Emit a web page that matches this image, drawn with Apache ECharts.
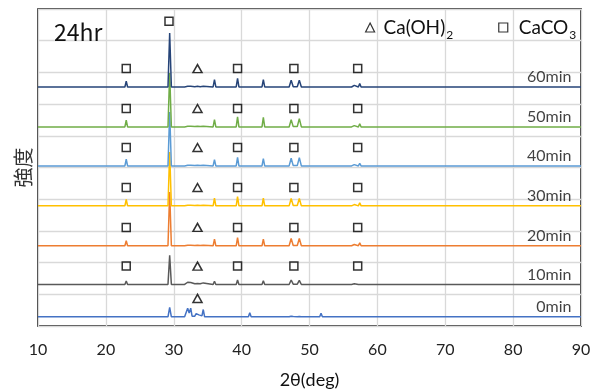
<!DOCTYPE html>
<html><head><meta charset="utf-8">
<script src="https://cdn.jsdelivr.net/npm/echarts@6/dist/echarts.min.js"></script>
<style>html,body{margin:0;padding:0;background:#fff}#c{width:603px;height:392px}</style>
</head><body><div id="c"></div>
<script>
// 2θ positions (deg) shared by all patterns
const twoTheta = [10,
  11.9,12.1,12.3, 14.7,14.9,15.1, 15.5,15.7,15.9, 18.9,19.1,19.3, 22.8,23.0,23.2,
  29.15,29.4,29.65, 31.2,31.4,31.6, 31.85,32.05,32.27,32.5,32.7, 33.1,33.3,33.5,33.7,33.9,
  34.15,34.35,34.55, 35.8,36.0,36.2, 39.2,39.4,39.6, 41.0,41.2,41.4, 43.0,43.2,43.4,
  47.0,47.3,47.6, 48.2,48.5,48.8, 51.5,51.7,51.9, 56.2,56.4,56.6,56.8, 57.2,57.4,57.6,
  60.5,60.7,60.9, 62.1,62.3,62.5, 64.5,64.7,64.9, 72.7,72.9,73.1, 83.6,83.8,84.0, 90];

// intensities (relative to each pattern's own baseline)
const int0min = [0,
  0,0.03,0, 0,0.02,0, 0,0.02,0, 0,0.02,0, 0,0.03,0,
  0,0.30,0, 0,0.02,0, 0.01,0.27,0.12,0.27,0.02, 0.02,0.10,0.04,0.06,0.03,
  0.03,0.23,0, 0,0.02,0, 0,0.02,0, 0,0.13,0, 0,0.02,0,
  0,0.02,0.01, 0,0.01,0, 0,0.11,0, 0,0.04,0,0, 0,0.02,0,
  0,0.01,0, 0,0.06,0, 0,0.01,0, 0,0.01,0, 0,0.01,0, 0];
const int10min = [0,
  0,0.03,0, 0,0.02,0, 0,0.01,0, 0,0.02,0, 0,0.11,0,
  0,0.92,0, 0,0.03,0, 0.02,0.07,0.03,0.06,0.02, 0.02,0.07,0.03,0.07,0.02,
  0,0.05,0, 0,0.10,0, 0,0.14,0, 0,0.03,0, 0,0.12,0,
  0,0.14,0.01, 0.01,0.13,0, 0,0.01,0, 0,0,0.02,0, 0,0.05,0,
  0,0.03,0, 0,0.02,0, 0,0.02,0, 0,0.01,0, 0,0.01,0, 0];
const int20min = [0,
  0,0.04,0, 0,0.01,0, 0,0.01,0, 0,0.02,0, 0,0.16,0,
  0,1.70,0, 0,0.03,0, 0.01,0.02,0.01,0.02,0.01, 0.01,0.05,0.02,0.05,0.01,
  0,0.02,0, 0,0.21,0, 0,0.26,0, 0,0.02,0, 0,0.21,0,
  0,0.23,0.01, 0.01,0.23,0, 0,0.01,0, 0,0,0.04,0, 0,0.09,0,
  0,0.05,0, 0,0.02,0, 0,0.04,0, 0,0.02,0, 0,0.02,0, 0];
const int30min = [0,
  0,0.04,0, 0,0.01,0, 0,0.01,0, 0,0.02,0, 0,0.20,0,
  0,1.70,0, 0,0.03,0, 0.01,0.02,0.01,0.02,0.01, 0.01,0.05,0.02,0.05,0.01,
  0,0.02,0, 0,0.24,0, 0,0.29,0, 0,0.02,0, 0,0.24,0,
  0,0.23,0.01, 0.01,0.23,0, 0,0.01,0, 0,0,0.04,0, 0,0.10,0,
  0,0.06,0, 0,0.02,0, 0,0.04,0, 0,0.02,0, 0,0.02,0, 0];
const int40min = [0,
  0,0.04,0, 0,0.01,0, 0,0.01,0, 0,0.02,0, 0,0.21,0,
  0,1.70,0, 0,0.03,0, 0.01,0.02,0.01,0.02,0.01, 0.01,0.05,0.02,0.05,0.01,
  0,0.02,0, 0,0.20,0, 0,0.27,0, 0,0.02,0, 0,0.23,0,
  0,0.24,0.01, 0.01,0.26,0, 0,0.01,0, 0,0,0.04,0, 0,0.08,0,
  0,0.05,0, 0,0.02,0, 0,0.04,0, 0,0.02,0, 0,0.02,0, 0];
const int50min = [0,
  0,0.05,0, 0,0.01,0, 0,0.01,0, 0,0.02,0, 0,0.21,0,
  0,1.70,0, 0,0.03,0, 0.01,0.02,0.01,0.02,0.01, 0.01,0.05,0.02,0.05,0.01,
  0,0.02,0, 0,0.23,0, 0,0.32,0, 0,0.02,0, 0,0.30,0,
  0,0.23,0.01, 0.01,0.26,0, 0,0.01,0, 0,0,0.04,0, 0,0.10,0,
  0,0.06,0, 0,0.02,0, 0,0.05,0, 0,0.02,0, 0,0.03,0, 0];
const int60min = [0,
  0,0.06,0, 0,0.01,0, 0,0.01,0, 0,0.02,0, 0,0.18,0,
  0,1.70,0, 0,0.03,0, 0.01,0.02,0.01,0.02,0.01, 0.01,0.06,0.02,0.05,0.01,
  0,0.02,0, 0,0.23,0, 0,0.27,0, 0,0.02,0, 0,0.23,0,
  0,0.21,0.01, 0.01,0.21,0, 0,0.01,0, 0,0,0.05,0, 0,0.11,0,
  0,0.06,0, 0,0.02,0, 0,0.05,0, 0,0.02,0, 0,0.03,0, 0];

const seriesNames = ['0min','10min','20min','30min','40min','50min','60min'];
const seriesOffsets = [0.29, 1.31, 2.53, 3.79, 5.05, 6.28, 7.54];
// peak assignments (2θ of marked peaks)
const caco3Peaks = [23.0, 39.4, 47.7, 57.1];
const caco3MainPeak = 29.3;
const caoh2Peaks = [33.5];
const caco3Series = ['10min','20min','30min','40min','50min','60min'];
const caoh2Series = ['0min','10min','20min','30min','40min','50min','60min'];

const intensities = [int0min,int10min,int20min,int30min,int40min,int50min,int60min];
const colors = ['#4472C4','#595959','#ED7D31','#FFC000','#5B9BD5','#70AD47','#264478'];
const markLift = 0.58, labelLift = 0.31, mainMarkLift = 0.37;

const lineSeries = seriesNames.map((n,k)=>({
  type:'line', name:n, silent:true, symbol:'none',
  data: twoTheta.map((t,j)=>[t, seriesOffsets[k] + intensities[k][j]]),
  lineStyle:{color:colors[k], width:1.5}, itemStyle:{color:colors[k]}
}));

const sqData = [];
caco3Series.forEach(n=>{
  const k = seriesNames.indexOf(n);
  caco3Peaks.forEach(p=>sqData.push([p, seriesOffsets[k] + markLift]));
});
const k60 = seriesNames.indexOf('60min');
sqData.push([caco3MainPeak, seriesOffsets[k60] + Math.max(...int60min) + mainMarkLift]);
const triData = [];
caoh2Series.forEach(n=>{
  const k = seriesNames.indexOf(n);
  caoh2Peaks.forEach(p=>triData.push([p, seriesOffsets[k] + markLift]));
});

const markStyle = {color:'transparent', borderColor:'#000', borderWidth:1.5};
const chart = echarts.init(document.getElementById('c'), null, {renderer:'canvas'});
chart.setOption({
  animation:false,
  backgroundColor:'#fff',
  title:{text:'24hr', left:54, top:21, padding:0, textStyle:{fontFamily:'Noto Sans CJK JP', fontSize:23, fontWeight:'normal', color:'#111'}},
  legend:{
    left:365, top:14, padding:0, itemWidth:9, itemHeight:9, itemGap:45, selectedMode:false,
    data:[
      {name:'Ca(OH)2', icon:'triangle', itemStyle:{color:'transparent', borderColor:'#000', borderWidth:1.2}},
      {name:'CaCO3', icon:'rect', itemStyle:{color:'transparent', borderColor:'#000', borderWidth:1.2}}
    ],
    formatter: n => n==='Ca(OH)2' ? '{m|Ca(OH)}{s|2}' : '{q|CaCO}{s|3}',
    textStyle:{rich:{
      m:{fontFamily:'Lato', fontSize:19, color:'#111', padding:[0,0,0,4]},
      q:{fontFamily:'Lato', fontSize:19, color:'#111', padding:[0,0,0,6]},
      s:{fontFamily:'Lato', fontSize:12, color:'#111', lineHeight:12, padding:[15,0,0,1]}
    }}
  },
  grid:{left:38, right:22, top:9, bottom:66, containLabel:false, outerBoundsMode:'none',
    show:true, borderColor:'#000', borderWidth:1.5, backgroundColor:'transparent'},
  xAxis:{type:'value', min:10, max:90, interval:10,
    name:'2θ(deg)', nameLocation:'middle', nameGap:45,
    nameTextStyle:{fontFamily:'Lato', fontSize:18, color:'#111'},
    axisLine:{show:false}, axisTick:{show:false},
    axisLabel:{fontFamily:'Lato', fontSize:16, color:'#222', margin:16},
    splitLine:{show:true, lineStyle:{color:'#d9d9d9', width:1.3}}},
  yAxis:{type:'value', min:0, max:10, interval:1,
    name:'強度', nameLocation:'middle', nameGap:5, nameRotate:90,
    nameTextStyle:{fontFamily:'Noto Sans CJK JP', fontSize:20, color:'#333'},
    axisLine:{show:false}, axisTick:{show:false}, axisLabel:{show:false},
    splitLine:{show:true, lineStyle:{color:'#d9d9d9', width:1.3}}},
  series:[
    ...lineSeries,
    {type:'scatter', name:'Ca(OH)2', symbol:'triangle', symbolSize:[9,8], silent:true,
     itemStyle:markStyle, data:triData, z:5},
    {type:'scatter', name:'CaCO3', symbol:'rect', symbolSize:[8,8], silent:true,
     itemStyle:markStyle, data:sqData, z:5},
    {type:'scatter', name:'labels', symbolSize:0, silent:true, z:6,
     data: seriesNames.map((n,k)=>({name:n, value:[88.6, seriesOffsets[k]+labelLift]})),
     label:{show:true, formatter:'{b}', position:'left', distance:0,
       fontFamily:'Lato', fontSize:16, color:'#111'}}
  ]
});
</script></body></html>
